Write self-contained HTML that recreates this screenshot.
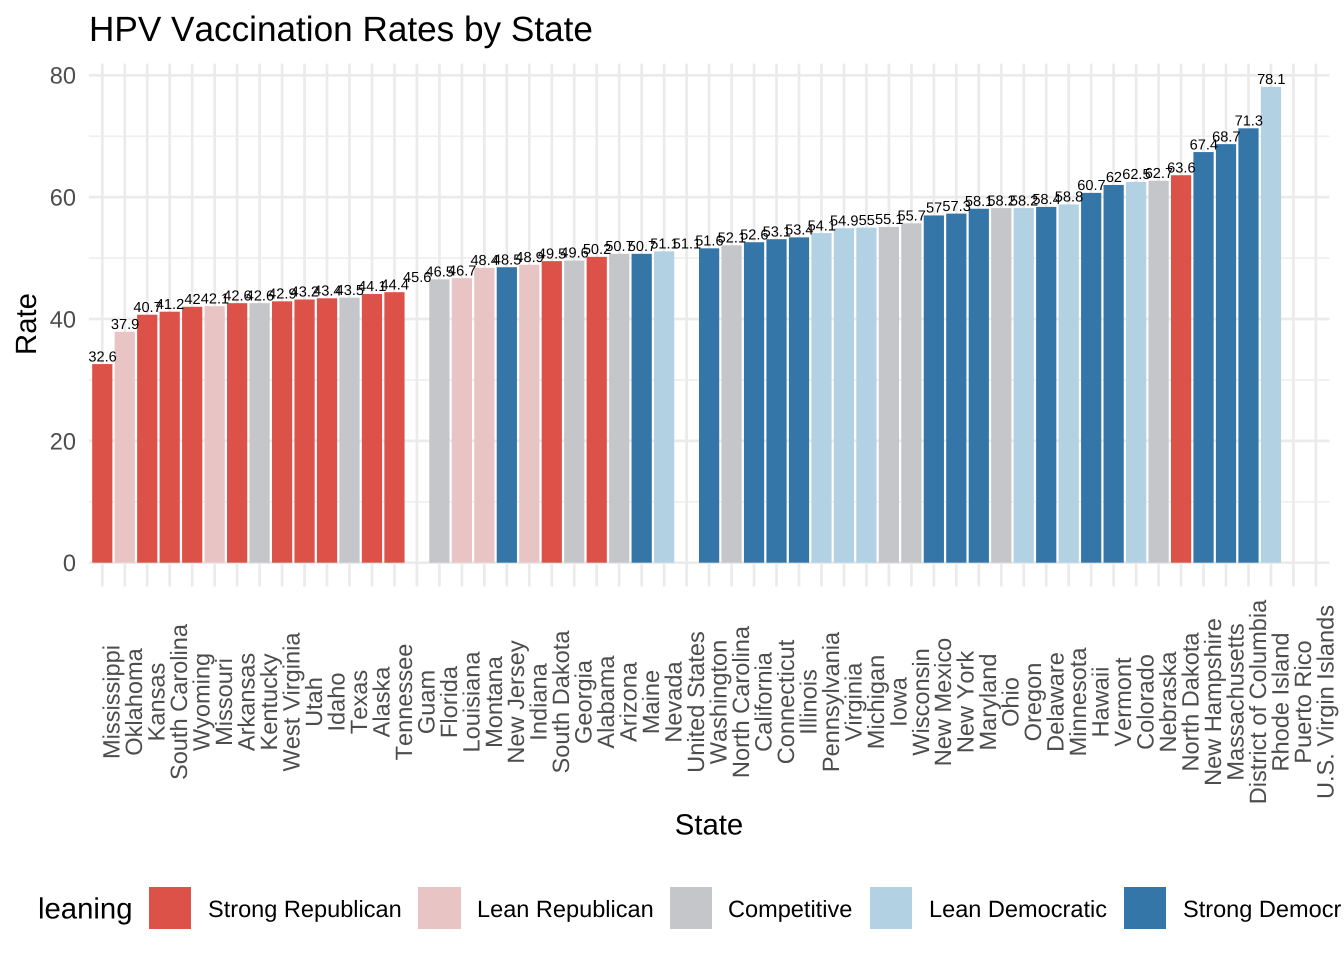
<!DOCTYPE html>
<html lang="en">
<head>
<meta charset="utf-8">
<title>HPV Vaccination Rates by State</title>
<style>
html,body{margin:0;padding:0;background:#fff;width:1344px;height:960px;overflow:hidden}
svg{display:block;font-family:"Liberation Sans",Arial,sans-serif}
svg text{font-kerning:none;text-rendering:geometricPrecision}
</style>
</head>
<body>
<svg id="chart" xmlns="http://www.w3.org/2000/svg" width="1344" height="960" viewBox="0 0 1344 960">
  <defs>
    <clipPath id="legend-clip"><rect x="1170" y="880" width="171" height="60"/></clipPath>
  </defs>
  <rect x="0" y="0" width="1344" height="960" fill="#ffffff"/>
  <g id="grid"></g>
  <g id="bars"></g>
  <g id="values"></g>
  <g id="yaxis"></g>
  <g id="xaxis"></g>
  <text x="89" y="41" font-size="35.15" fill="#000">HPV Vaccination Rates by State</text>
  <text x="709" y="834.5" font-size="29.3" text-anchor="middle" fill="#000">State</text>
  <text transform="translate(36,324) rotate(-90)" font-size="29.3" text-anchor="middle" fill="#000">Rate</text>
  <g>
    <text x="38" y="918.5" font-size="29.3" fill="#000">leaning</text>
    <g>
      <rect x="149" y="887" width="42" height="42" fill="#DC5249"/>
      <text x="208" y="917" font-size="23.55" fill="#000">Strong Republican</text>
    </g>
    <g>
      <rect x="418" y="887" width="43" height="42" fill="#E9C4C5"/>
      <text x="477" y="917" font-size="23.55" fill="#000">Lean Republican</text>
    </g>
    <g>
      <rect x="670" y="887" width="42" height="42" fill="#C5C6CA"/>
      <text x="728" y="917" font-size="23.55" fill="#000">Competitive</text>
    </g>
    <g>
      <rect x="870" y="887" width="42" height="42" fill="#B2D1E2"/>
      <text x="929" y="917" font-size="23.55" fill="#000">Lean Democratic</text>
    </g>
    <g>
      <rect x="1124" y="887" width="42" height="42" fill="#3576A8"/>
      <text x="1183" y="917" font-size="23.55" fill="#000" clip-path="url(#legend-clip)">Strong Democratic</text>
    </g>
  </g>
</svg>
<script>
const states = ["Mississippi","Oklahoma","Kansas","South Carolina","Wyoming","Missouri","Arkansas","Kentucky","West Virginia","Utah","Idaho","Texas","Alaska","Tennessee","Guam","Florida","Louisiana","Montana","New Jersey","Indiana","South Dakota","Georgia","Alabama","Arizona","Maine","Nevada","United States","Washington","North Carolina","California","Connecticut","Illinois","Pennsylvania","Virginia","Michigan","Iowa","Wisconsin","New Mexico","New York","Maryland","Ohio","Oregon","Delaware","Minnesota","Hawaii","Vermont","Colorado","Nebraska","North Dakota","New Hampshire","Massachusetts","District of Columbia","Rhode Island","Puerto Rico","U.S. Virgin Islands"];
const rates = [32.6,37.9,40.7,41.2,42,42.1,42.6,42.6,42.9,43.2,43.4,43.5,44.1,44.4,45.6,46.5,46.7,48.4,48.5,48.9,49.5,49.6,50.2,50.7,50.7,51.1,51.1,51.6,52.1,52.6,53.1,53.4,54.1,54.9,55,55.1,55.7,57,57.3,58.1,58.2,58.2,58.4,58.8,60.7,62,62.5,62.7,63.6,67.4,68.7,71.3,78.1,null,null];
const leanings = ["SR","LR","SR","SR","SR","LR","SR","C","SR","SR","SR","C","SR","SR",null,"C","LR","LR","SD","LR","SR","C","SR","C","SD","LD",null,"SD","C","SD","SD","SD","LD","LD","LD","C","C","SD","SD","SD","C","LD","SD","LD","SD","SD","LD","C","SR","SD","SD","SD","LD",null,null];
const leaningColors = {SR:"#DC5249",LR:"#E9C4C5",C:"#C5C6CA",LD:"#B2D1E2",SD:"#3576A8"};
const yMajorTicks = [0,20,40,60,80];
const yMinorTicks = [10,30,50,70];

const NS = "http://www.w3.org/2000/svg";
const panelLeft = 88.8, panelRight = 1329.4, panelTop = 63.6, panelBottom = 586.4;
const step = (panelRight - panelLeft) / (states.length - 1 + 1.2);
function xScale(i){ return panelLeft + (i + 0.6) * step; }
function yScale(v){ return 562.7 - v * 6.0925; }
function make(tag, attrs, parent, text){
  const el = document.createElementNS(NS, tag);
  for (const k in attrs) el.setAttribute(k, attrs[k]);
  if (text !== undefined) el.textContent = text;
  parent.appendChild(el);
  return el;
}
function slug(s){ return s.toLowerCase().replace(/[^a-z0-9]+/g, '-').replace(/^-|-$/g, ''); }

const grid = document.getElementById('grid');
const bars = document.getElementById('bars');
const values = document.getElementById('values');
const yaxis = document.getElementById('yaxis');
const xaxis = document.getElementById('xaxis');

yMinorTicks.forEach(function(t){
  const y = yScale(t);
  const ln = make('line', {x1:panelLeft, x2:panelRight, y1:y, y2:y, stroke:'#EBEBEB', 'stroke-width':1.35}, grid);
  
  
});
yMajorTicks.forEach(function(t){
  const y = yScale(t);
  const ln = make('line', {x1:panelLeft, x2:panelRight, y1:y, y2:y, stroke:'#EBEBEB', 'stroke-width':2.7}, grid);
  
  
  const lab = make('text', {x:76, y:y + 8.4, 'font-size':23.6, 'text-anchor':'end', fill:'#4D4D4D'}, yaxis, String(t));
  
  
});

const barWidth = step * 0.9;
states.forEach(function(name, i){
  const x = xScale(i);
  const id = slug(name);
  const gl = make('line', {x1:x, x2:x, y1:panelTop, y2:panelBottom, stroke:'#EBEBEB', 'stroke-width':2.7}, grid);
  
  

  const lab = make('text', {transform:'translate(' + (x + 17.4) + ',702) rotate(-90)', 'font-size':23.6, 'text-anchor':'middle', fill:'#4D4D4D'}, xaxis, name);
  
  

  const v = rates[i];
  if (v === null) return;
  if (leanings[i]) {
    const top = yScale(v);
    const b = make('rect', {x:x - barWidth / 2, y:top, width:barWidth, height:yScale(0) - top, fill:leaningColors[leanings[i]]}, bars);
    
    
  }
  const t = make('text', {x:x + 0.3, y:yScale(v) - 2.8, 'font-size':14.6, 'text-anchor':'middle', fill:'#000'}, values, String(v));
  
  
});
</script>
</body>
</html>
